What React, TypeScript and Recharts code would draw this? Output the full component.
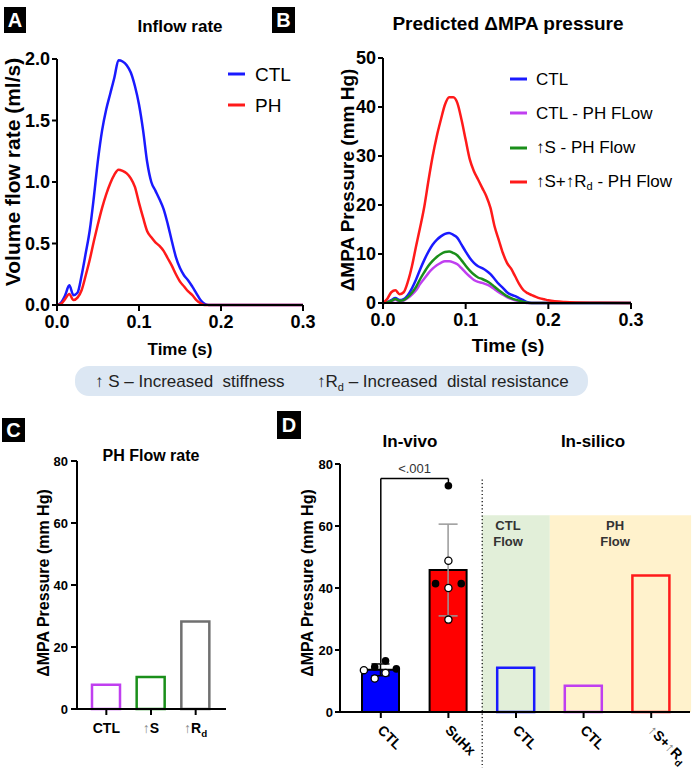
import React from 'react';
import {
  LineChart, Line, XAxis, YAxis, Legend, BarChart, Bar, Cell, ComposedChart,
  Scatter, ErrorBar, ReferenceArea, ReferenceLine, ReferenceDot,
} from 'recharts';

const FONT = '"Liberation Sans", Arial, Helvetica, sans-serif';

// ---------- Data ----------
const timeS = [
  0, 0.005, 0.01, 0.015, 0.02, 0.025, 0.03, 0.035, 0.04, 0.045,
  0.05, 0.055, 0.06, 0.065, 0.07, 0.075, 0.08, 0.085, 0.09, 0.095,
  0.1, 0.105, 0.11, 0.115, 0.12, 0.125, 0.13, 0.135, 0.14, 0.145,
  0.15, 0.155, 0.16, 0.165, 0.17, 0.175, 0.18, 0.185, 0.19, 0.195,
  0.2, 0.22, 0.25, 0.3,
];
const inflowCTL = [
  0, 0.02, 0.08, 0.16, 0.08, 0.10, 0.24, 0.42, 0.61, 0.88,
  1.18, 1.42, 1.59, 1.72, 1.85, 1.99, 1.98, 1.95, 1.89, 1.78,
  1.63, 1.42, 1.16, 1.0, 0.93, 0.86, 0.78, 0.66, 0.52, 0.39,
  0.30, 0.24, 0.20, 0.15, 0.095, 0.04, 0.01, 0, 0, 0,
  0, 0, 0, 0,
];
const inflowPH = [
  0, 0.01, 0.05, 0.09, 0.04, 0.06, 0.12, 0.24, 0.37, 0.52,
  0.66, 0.79, 0.90, 0.99, 1.06, 1.10, 1.09, 1.07, 1.03, 0.96,
  0.83, 0.71, 0.60, 0.55, 0.51, 0.48, 0.44, 0.38, 0.32, 0.25,
  0.19, 0.15, 0.11, 0.08, 0.04, 0.015, 0, 0, 0, 0,
  0, 0, 0, 0,
];
const pressCTL = [
  0, 0.2, 0.6, 1.0, 0.6, 0.8, 1.6, 3.0, 4.8, 6.9,
  8.8, 10.5, 11.9, 12.9, 13.6, 14.1, 14.3, 13.9, 13.3, 11.9,
  10.5, 9.2, 8.2, 7.5, 7.1, 6.6, 5.9, 4.9, 3.9, 3.1,
  2.2, 1.7, 1.4, 0.95, 0.55, 0.15, 0, 0, 0, 0,
  0, 0, 0, 0,
];
const pressCTLPHFlow = [
  0, 0.1, 0.35, 0.65, 0.35, 0.5, 1.0, 1.7, 2.6, 3.9,
  5.0, 6.1, 7.0, 7.7, 8.2, 8.5, 8.5, 8.3, 7.9, 7.1,
  6.2, 5.4, 4.7, 4.3, 4.1, 3.8, 3.4, 2.8, 2.2, 1.7,
  1.2, 0.85, 0.55, 0.35, 0.15, 0, 0, 0, 0, 0,
  0, 0, 0, 0,
];
const pressStiffPHFlow = [
  0, 0.15, 0.45, 0.8, 0.45, 0.6, 1.2, 2.1, 3.3, 4.9,
  6.3, 7.6, 8.6, 9.4, 10.0, 10.4, 10.5, 10.2, 9.7, 8.7,
  7.6, 6.6, 5.8, 5.2, 4.9, 4.5, 4.0, 3.3, 2.6, 2.0,
  1.4, 1.0, 0.7, 0.45, 0.2, 0.05, 0, 0, 0, 0,
  0, 0, 0, 0,
];
const pressStiffResPHFlow = [
  0, 0.8, 2.2, 2.6, 1.8, 2.2, 4.3, 7.5, 11.6, 15.5,
  19.7, 25.0, 29.9, 34.0, 37.4, 40.5, 42.0, 42.0, 40.8, 37.4,
  33.3, 29.3, 26.9, 25.2, 23.5, 21.8, 19.4, 15.6, 12.9, 10.2,
  8.2, 7.0, 5.4, 3.8, 2.6, 2.0, 1.6, 1.25, 0.95, 0.75,
  0.55, 0.2, 0.05, 0,
];

const flowTicks = [0, 0.5, 1, 1.5, 2];
const timeTicks = [0, 0.1, 0.2, 0.3];
const pressTicks = [0, 10, 20, 30, 40, 50];
const barTicks = [0, 20, 40, 60, 80];

const cCategories = ['CTL', '↑S', '↑Rd'];
const cValues = [7.8, 10.3, 28.2];

const dCategories = ['CTL', 'SuHx', 'CTL', 'CTL', '↑S+↑Rd'];
const dValues = [13.6, 45.8, 14.3, 8.5, 44.0];
const dSD = [1.9, 14.8, null, null, null];

const ctlDotsX = [0.25, 0.41, 0.57, 0.41, 0.57, 0.73];
const ctlDotsY = [13.5, 14.5, 16.5, 10.8, 12.6, 13.9];
const ctlDotsFilled = [false, true, true, false, false, true];
const suhxDotsX = [1.5, 1.5, 1.31, 1.5, 1.69, 1.5];
const suhxDotsY = [73.0, 48.8, 41.4, 40.0, 41.4, 29.8];
const suhxDotsFilled = [true, false, true, false, true, false];

const sigY = 75.3;
const sigLeftBottom = 15.8;
const sigRightBottom = 73.8;

// ---------- Styles ----------
const BLUE = '#1a1aff';
const RED = '#ff1a1a';
const GREEN = '#1a8f1a';
const MAGENTA = '#c03ff0';
const GRAY = '#707070';
const cColors = [MAGENTA, GREEN, GRAY];
const dFill = ['#0000ff', '#ff0000', 'none', 'none', 'none'];
const dStroke = ['#000', '#000', BLUE, MAGENTA, RED];

const axisLine = { stroke: '#000', strokeWidth: 2 };
const tickLine = { stroke: '#000', strokeWidth: 2 };

function renderName(name: string) {
  const idx = name.indexOf('Rd');
  if (idx < 0) return name;
  return (
    <>
      {name.slice(0, idx)}R<sub style={{ fontSize: '0.65em', verticalAlign: '-0.25em' }}>d</sub>{name.slice(idx + 2)}
    </>
  );
}

function labelSpans(label: string) {
  const parts = label.split(/(↑)/).filter((s) => s !== '');
  return parts.map((p, i) => {
    if (p === '↑') return <tspan key={i} fill="#888" fontWeight="normal">↑</tspan>;
    if (p.endsWith('Rd')) {
      return (
        <React.Fragment key={i}>
          <tspan>{p.slice(0, -1)}</tspan>
          <tspan dy={4} fontSize="0.7em">d</tspan>
        </React.Fragment>
      );
    }
    return <tspan key={i}>{p}</tspan>;
  });
}

function LegendList({ payload, rowH, fontSize, lineW, gap }: any) {
  return (
    <div style={{ fontFamily: FONT, fontSize, color: '#000' }}>
      {(payload || []).map((p: any, i: number) => (
        <div key={i} style={{ display: 'flex', alignItems: 'center', height: rowH, whiteSpace: 'nowrap' }}>
          <svg width={lineW} height={4} style={{ flex: 'none', display: 'block' }}>
            <line x1={0} y1={2} x2={lineW} y2={2} stroke={p.color} strokeWidth={3} />
          </svg>
          <span style={{ marginLeft: gap, lineHeight: 1 }}>{renderName(String(p.value))}</span>
        </div>
      ))}
    </div>
  );
}

function CTick(props: any) {
  const { x, y, index, payload } = props;
  const i = index ?? payload?.index ?? 0;
  return (
    <g transform={`translate(${x},${y})`}>
      <text x={0} y={0} dy={18} textAnchor="middle" fontSize={14} fontWeight="bold" fill="#000" fontFamily={FONT}>
        {labelSpans(cCategories[i])}
      </text>
    </g>
  );
}

function DTick(props: any) {
  const { x, y, index, payload } = props;
  const i = index ?? payload?.index ?? 0;
  return (
    <g transform={`translate(${x},${y})`}>
      <text x={0} y={0} transform="translate(-4,13) rotate(45)" textAnchor="start" fontSize={14} fontWeight="bold" fill="#000" fontFamily={FONT}>
        {labelSpans(dCategories[i])}
      </text>
    </g>
  );
}

const filledDot = (p: any) => <circle cx={p.cx} cy={p.cy} r={3.8} fill="#000" />;
const openDot = (p: any) => <circle cx={p.cx} cy={p.cy} r={3.6} fill="#fff" stroke="#000" strokeWidth={1.3} />;

function PanelLetter({ x, y, w, h, t }: any) {
  return (
    <g>
      <rect x={x} y={y} width={w} height={h} fill="#000" />
      <text x={x + w / 2} y={y + h / 2 + 7} textAnchor="middle" fontSize={20} fontWeight="bold" fill="#fff">{t}</text>
    </g>
  );
}

export default function App() {
  const flowData = timeS.map((t, i) => ({ t, ctl: inflowCTL[i], ph: inflowPH[i] }));
  const pressData = timeS.map((t, i) => ({
    t, ctl: pressCTL[i], ctlPh: pressCTLPHFlow[i], sPh: pressStiffPHFlow[i], srPh: pressStiffResPHFlow[i],
  }));
  const cData = cCategories.map((_, i) => ({ key: 'c' + i, value: cValues[i] }));
  const dData = dCategories.map((_, i) => ({
    key: 'd' + i,
    value: dValues[i],
    sdBlack: i === 0 ? dSD[i] : null,
    sdGray: i === 1 ? dSD[i] : null,
  }));
  const allX = [...ctlDotsX, ...suhxDotsX];
  const allY = [...ctlDotsY, ...suhxDotsY];
  const allF = [...ctlDotsFilled, ...suhxDotsFilled];
  const filledPts = allX.map((x, i) => ({ x, y: allY[i], f: allF[i] })).filter((p) => p.f);
  const openPts = allX.map((x, i) => ({ x, y: allY[i], f: allF[i] })).filter((p) => !p.f);

  const tickBig = { fill: '#000', fontSize: 18, fontWeight: 'bold' as const, fontFamily: FONT };
  const tickSmall = { fill: '#000', fontSize: 13, fontWeight: 'bold' as const, fontFamily: FONT };

  return (
    <div style={{ position: 'absolute', left: 0, top: 0, width: 696, height: 768, background: '#fff', fontFamily: FONT, overflow: 'hidden' }}>
      {/* Panel A */}
      <div style={{ position: 'absolute', left: 0, top: 0 }}>
        <LineChart width={340} height={345} data={flowData} margin={{ top: 59, right: 37, bottom: 0, left: 0 }} style={{ fontFamily: FONT }}>
          <XAxis dataKey="t" type="number" domain={[0, 0.3]} ticks={timeTicks} height={40} tickSize={6} tickMargin={4}
            axisLine={axisLine} tickLine={tickLine} tick={tickBig} tickFormatter={(v: number) => v.toFixed(1)} />
          <YAxis type="number" domain={[0, 2]} ticks={flowTicks} width={57} tickSize={5} tickMargin={2}
            axisLine={axisLine} tickLine={tickLine} tick={tickBig} tickFormatter={(v: number) => v.toFixed(1)} />
          <Legend layout="vertical" align="center" verticalAlign="middle"
            wrapperStyle={{ left: 228, top: 58.5, width: 'auto', height: 'auto' }}
            content={(p: any) => <LegendList payload={p.payload} rowH={31} fontSize={19} lineW={17} gap={10} />} />
          <Line type="monotone" dataKey="ctl" name="CTL" stroke={BLUE} strokeWidth={2.5} dot={false} isAnimationActive={false} />
          <Line type="monotone" dataKey="ph" name="PH" stroke={RED} strokeWidth={2.5} dot={false} isAnimationActive={false} />
        </LineChart>
      </div>

      {/* Panel B */}
      <div style={{ position: 'absolute', left: 340, top: 0 }}>
        <LineChart width={356} height={345} data={pressData} margin={{ top: 58, right: 65, bottom: 0, left: 0 }} style={{ fontFamily: FONT }}>
          <XAxis dataKey="t" type="number" domain={[0, 0.3]} ticks={timeTicks} height={42} tickSize={6} tickMargin={4}
            axisLine={axisLine} tickLine={tickLine} tick={tickBig} tickFormatter={(v: number) => v.toFixed(1)} />
          <YAxis type="number" domain={[0, 50]} ticks={pressTicks} width={43} tickSize={5} tickMargin={2}
            axisLine={axisLine} tickLine={tickLine} tick={tickBig} />
          <Legend layout="vertical" align="center" verticalAlign="middle"
            wrapperStyle={{ left: 170, top: 62, width: 'auto', height: 'auto' }}
            content={(p: any) => <LegendList payload={p.payload} rowH={34.3} fontSize={17} lineW={17} gap={9} />} />
          <Line type="monotone" dataKey="ctl" name="CTL" stroke={BLUE} strokeWidth={2.5} dot={false} isAnimationActive={false} />
          <Line type="monotone" dataKey="ctlPh" name="CTL - PH FLow" stroke={MAGENTA} strokeWidth={2.5} dot={false} isAnimationActive={false} />
          <Line type="monotone" dataKey="sPh" name="↑S - PH Flow" stroke={GREEN} strokeWidth={2.5} dot={false} isAnimationActive={false} />
          <Line type="monotone" dataKey="srPh" name="↑S+↑Rd - PH Flow" stroke={RED} strokeWidth={2.5} dot={false} isAnimationActive={false} />
        </LineChart>
      </div>

      {/* Panel C */}
      <div style={{ position: 'absolute', left: 0, top: 390 }}>
        <BarChart width={260} height={378} data={cData} margin={{ top: 71, right: 34, bottom: 0, left: 0 }} style={{ fontFamily: FONT }}>
          <XAxis dataKey="key" height={59} padding={{ left: 7, right: 8 }} interval={0} tickSize={6} tickMargin={0}
            axisLine={axisLine} tickLine={tickLine} tick={<CTick />} />
          <YAxis type="number" domain={[0, 80]} ticks={barTicks} width={77} tickSize={6} tickMargin={3}
            axisLine={axisLine} tickLine={tickLine} tick={tickSmall} />
          <Bar dataKey="value" barSize={28} isAnimationActive={false}>
            {cData.map((_, i) => (
              <Cell key={i} fill="none" stroke={cColors[i]} strokeWidth={2.5} />
            ))}
          </Bar>
        </BarChart>
      </div>

      {/* Panel D */}
      <div style={{ position: 'absolute', left: 250, top: 390 }}>
        <ComposedChart width={446} height={378} data={dData} margin={{ top: 74, right: 6, bottom: 0, left: 0 }} style={{ fontFamily: FONT }}>
          <XAxis xAxisId="cat" dataKey="key" height={56} padding={{ left: 7, right: 5 }} interval={0} tickSize={6} tickMargin={0}
            axisLine={axisLine} tickLine={tickLine} tick={<DTick />} />
          <XAxis xAxisId="num" dataKey="x" type="number" domain={[0, 5]} hide allowDataOverflow padding={{ left: 7, right: 5 }} />
          <YAxis type="number" domain={[0, 80]} ticks={barTicks} width={90} tickSize={5} tickMargin={2}
            axisLine={axisLine} tickLine={tickLine} tick={tickSmall} />
          <ReferenceArea xAxisId="num" x1={2} x2={3} y1={0} y2={63.5} fill="#e2efd9" fillOpacity={1} stroke="none" ifOverflow="visible" />
          <ReferenceArea xAxisId="num" x1={3} x2={5.09} y1={0} y2={63.5} fill="#fff2cc" fillOpacity={1} stroke="none" ifOverflow="visible" />
          <ReferenceLine xAxisId="num" segment={[{ x: 2, y: 75 }, { x: 2, y: -18 }]} stroke="#000" strokeWidth={1.2} strokeDasharray="1.2 2.4" ifOverflow="visible" />
          <Bar xAxisId="cat" dataKey="value" barSize={37} isAnimationActive={false}>
            {dData.map((_, i) => (
              <Cell key={i} fill={dFill[i]} stroke={dStroke[i]} strokeWidth={i < 2 ? 2 : 2.5} />
            ))}
            <ErrorBar dataKey="sdBlack" width={9} stroke="#000" strokeWidth={1.5} direction="y" />
            <ErrorBar dataKey="sdGray" width={9.5} stroke="#999" strokeWidth={1.5} direction="y" />
          </Bar>
          <ReferenceLine xAxisId="num" segment={[{ x: 0.5, y: sigLeftBottom }, { x: 0.5, y: sigY }]} stroke="#000" strokeWidth={1.5} ifOverflow="visible" />
          <ReferenceLine xAxisId="num" segment={[{ x: 0.5, y: sigY }, { x: 1.5, y: sigY }]} stroke="#000" strokeWidth={1.5} ifOverflow="visible" />
          <ReferenceLine xAxisId="num" segment={[{ x: 1.5, y: sigY }, { x: 1.5, y: sigRightBottom }]} stroke="#000" strokeWidth={1.5} ifOverflow="visible" />
          <ReferenceDot xAxisId="num" x={1} y={78.6} r={0.01} fill="none" stroke="none" ifOverflow="visible"
            label={{ value: '<.001', position: 'center', fill: '#333', fontSize: 13, fontFamily: FONT }} />
          <Scatter xAxisId="num" data={openPts} dataKey="y" shape={openDot} isAnimationActive={false} />
          <Scatter xAxisId="num" data={filledPts} dataKey="y" shape={filledDot} isAnimationActive={false} />
        </ComposedChart>
      </div>

      {/* Overlay text */}
      <svg width={696} height={768} style={{ position: 'absolute', left: 0, top: 0, pointerEvents: 'none', zIndex: 5 }} fontFamily={FONT}>
        <PanelLetter x={4} y={7} w={22} h={26} t="A" />
        <PanelLetter x={272} y={7} w={23} h={26} t="B" />
        <PanelLetter x={2} y={418} w={23} h={24} t="C" />
        <PanelLetter x={277} y={411} w={24} h={28} t="D" />

        <text x={180} y={32} textAnchor="middle" fontSize={17} fontWeight="bold" fill="#000">Inflow rate</text>
        <text x={508} y={30} textAnchor="middle" fontSize={19} fontWeight="bold" fill="#000">Predicted ΔMPA pressure</text>

        <text transform="translate(13,172) rotate(-90)" textAnchor="middle" dy="0.35em" fontSize={21} fontWeight="bold" fill="#000">Volume flow rate (ml/s)</text>
        <text transform="translate(347,180) rotate(-90)" textAnchor="middle" dy="0.35em" fontSize={19} fontWeight="bold" fill="#000">ΔMPA Pressure (mm Hg)</text>
        <text x={180} y={355} textAnchor="middle" fontSize={17} fontWeight="bold" fill="#000">Time (s)</text>
        <text x={508} y={352} textAnchor="middle" fontSize={19} fontWeight="bold" fill="#000">Time (s)</text>

        <rect x={75} y={366} width={513} height={30} rx={14} fill="#dce7f3" />
        <text x={95} y={387} fontSize={17} fill="#222" style={{ whiteSpace: 'pre' }}>↑ S – Increased  stiffness</text>
        <text x={317} y={387} fontSize={17} fill="#222" style={{ whiteSpace: 'pre' }}>
          ↑R<tspan dy={4} fontSize={11}>d</tspan><tspan dy={-4}> – Increased  distal resistance</tspan>
        </text>

        <text x={151} y={461} textAnchor="middle" fontSize={16} fontWeight="bold" fill="#000">PH Flow rate</text>
        <text transform="translate(43,583) rotate(-90)" textAnchor="middle" dy="0.35em" fontSize={16} fontWeight="bold" fill="#000">ΔMPA Pressure (mm Hg)</text>

        <text x={410} y={447} textAnchor="middle" fontSize={17} fontWeight="bold" fill="#000">In-vivo</text>
        <text x={593} y={447} textAnchor="middle" fontSize={17} fontWeight="bold" fill="#000">In-silico</text>
        <text transform="translate(307,583) rotate(-90)" textAnchor="middle" dy="0.35em" fontSize={16} fontWeight="bold" fill="#000">ΔMPA Pressure (mm Hg)</text>

        <text x={508} y={530} textAnchor="middle" fontSize={13} fontWeight="bold" fill="#333">CTL</text>
        <text x={508} y={546} textAnchor="middle" fontSize={13} fontWeight="bold" fill="#333">Flow</text>
        <text x={615} y={530} textAnchor="middle" fontSize={13} fontWeight="bold" fill="#333">PH</text>
        <text x={615} y={546} textAnchor="middle" fontSize={13} fontWeight="bold" fill="#333">Flow</text>
      </svg>
    </div>
  );
}
